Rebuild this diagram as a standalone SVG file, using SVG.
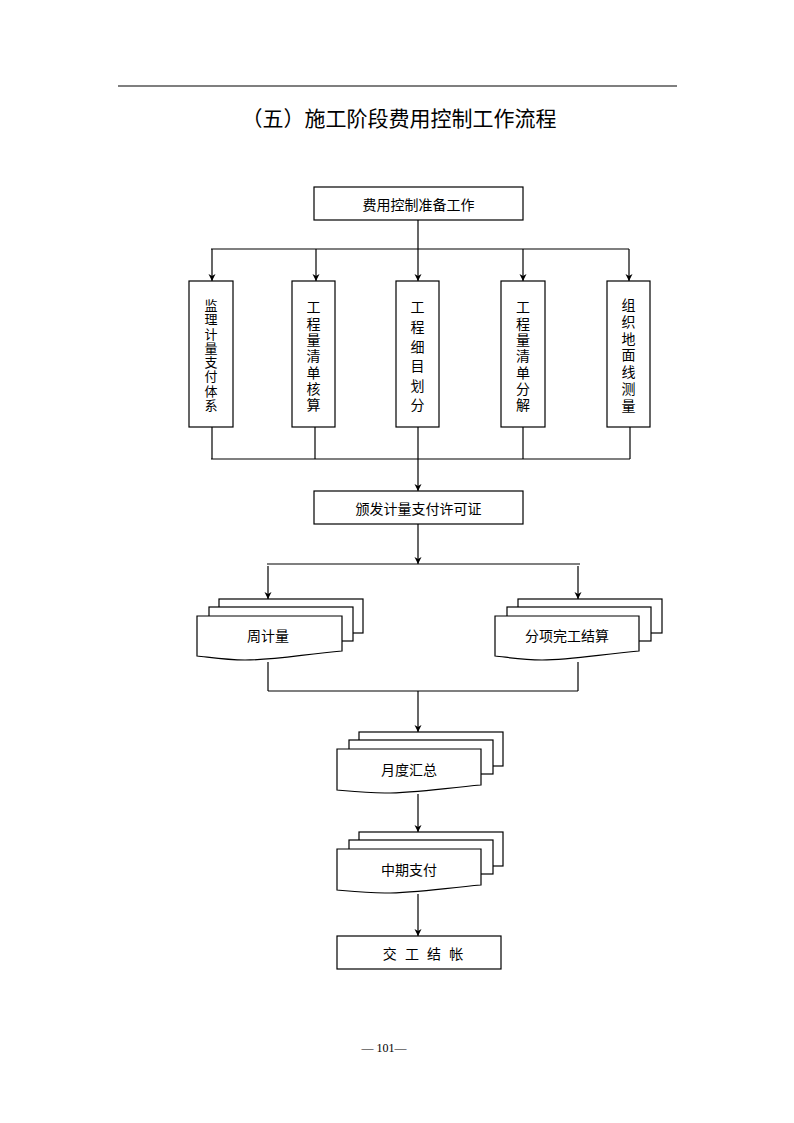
<svg xmlns="http://www.w3.org/2000/svg" width="794" height="1123" viewBox="0 0 794 1123">
<defs>
<style>
.bx{fill:#fff;stroke:#000;stroke-width:1.2}
.ln{fill:none;stroke:#000;stroke-width:1.2}
.ar{fill:none;stroke:#000;stroke-width:1.2;marker-end:url(#ah)}
.t{font-family:"Noto Sans CJK SC","Noto Sans",sans-serif;font-size:14px;fill:#000;text-anchor:middle;dominant-baseline:central}
.v{font-family:"Noto Sans CJK SC","Noto Sans",sans-serif;font-size:14px;fill:#000;writing-mode:vertical-rl;text-orientation:upright;text-anchor:start}
</style>
<marker id="ah" markerUnits="userSpaceOnUse" markerWidth="7" markerHeight="8" viewBox="0 0 10 10" refX="10" refY="5" orient="auto">
<path d="M0,0 L10,5 L0,10 L3,5 z" fill="#000"/>
</marker>
</defs>
<rect width="794" height="1123" fill="#fff"/>
<line x1="118" y1="86" x2="677" y2="86" stroke="#000" stroke-width="1.2"/>
<text x="399" y="117" font-family="Noto Sans CJK SC,sans-serif" font-size="21" text-anchor="middle" dominant-baseline="central" fill="#000">（五）施工阶段费用控制工作流程</text>

<g id="connectors">
<line class="ln" x1="418" y1="220" x2="418" y2="249"/>
<line class="ln" x1="211" y1="249" x2="629" y2="249"/>
<line class="ar" x1="212" y1="249" x2="212" y2="281"/>
<line class="ar" x1="316" y1="249" x2="316" y2="281"/>
<line class="ar" x1="418" y1="249" x2="418" y2="281"/>
<line class="ar" x1="523" y1="249" x2="523" y2="281"/>
<line class="ar" x1="629" y1="249" x2="629" y2="281" stroke-width="2"/>
<line class="ln" x1="212" y1="427" x2="212" y2="459"/>
<line class="ln" x1="315" y1="427" x2="315" y2="459"/>
<line class="ln" x1="418" y1="427" x2="418" y2="459"/>
<line class="ln" x1="523" y1="427" x2="523" y2="459"/>
<line class="ln" x1="630" y1="427" x2="630" y2="459"/>
<line class="ln" x1="211" y1="459" x2="630" y2="459"/>
<line class="ar" x1="418" y1="459" x2="418" y2="491"/>
<line class="ar" x1="418" y1="524" x2="418" y2="564"/>
<line class="ln" x1="267" y1="564" x2="580" y2="564"/>
<line class="ar" x1="268" y1="566" x2="268" y2="599"/>
<line class="ar" x1="578" y1="566" x2="578" y2="599"/>
<line class="ln" x1="268" y1="662" x2="268" y2="691"/>
<line class="ln" x1="578" y1="662" x2="578" y2="691"/>
<line class="ln" x1="268" y1="691" x2="578" y2="691"/>
<line class="ar" x1="418" y1="691" x2="418" y2="732"/>
<line class="ar" x1="418" y1="794" x2="418" y2="832"/>
<line class="ar" x1="418" y1="894" x2="418" y2="936"/>
</g>

<g id="n-prep">
<rect class="bx" x="314" y="187" width="209" height="33"/>
<text class="t" x="418.5" y="204">费用控制准备工作</text>
</g>

<g id="n-v1">
<rect class="bx" x="189" y="281" width="44" height="146"/>
<text class="v" x="211" y="298.5" style="font-size:13px;letter-spacing:1.3px">监理计量支付体系</text>
</g>
<g id="n-v2">
<rect class="bx" x="292" y="281" width="43" height="146"/>
<text class="v" x="313.5" y="300" style="letter-spacing:2.3px">工程量清单核算</text>
</g>
<g id="n-v3">
<rect class="bx" x="396" y="281" width="43" height="146"/>
<text class="v" x="417.5" y="300" style="letter-spacing:5.6px">工程细目划分</text>
</g>
<g id="n-v4">
<rect class="bx" x="501" y="281" width="44" height="146"/>
<text class="v" x="523" y="300" style="letter-spacing:2.3px">工程量清单分解</text>
</g>
<g id="n-v5">
<rect class="bx" x="607" y="281" width="43" height="146"/>
<text class="v" x="628.5" y="298" style="letter-spacing:2.7px">组织地面线测量</text>
</g>

<g id="n-permit">
<rect class="bx" x="314" y="491" width="209" height="33"/>
<text class="t" x="418.5" y="508">颁发计量支付许可证</text>
</g>

<g id="n-weekly">
<rect class="bx" x="219" y="599" width="144" height="34"/>
<rect class="bx" x="209" y="607" width="144" height="34"/>
<path class="bx" d="M197,616 H342 V651 C305,654 275,660 245,660 C225,660 208,657 197,656 Z"/>
<text class="t" x="268" y="635">周计量</text>
</g>

<g id="n-item">
<rect class="bx" x="518" y="599" width="144" height="34"/>
<rect class="bx" x="507" y="607" width="144" height="34"/>
<path class="bx" d="M495,616 H639 V651 C602,654 572,660 542,660 C522,660 506,657 495,656 Z"/>
<text class="t" x="567" y="635">分项完工结算</text>
</g>

<g id="n-monthly">
<rect class="bx" x="359" y="732" width="144" height="34"/>
<rect class="bx" x="349" y="740" width="144" height="34"/>
<path class="bx" d="M337,749 H481 V785 C445,788 415,793 385,793 C365,793 348,791 337,790 Z"/>
<text class="t" x="409" y="769">月度汇总</text>
</g>

<g id="n-interim">
<rect class="bx" x="359" y="832" width="144" height="34"/>
<rect class="bx" x="349" y="840" width="144" height="34"/>
<path class="bx" d="M337,849 H481 V885 C445,888 415,893 385,893 C365,893 348,891 337,890 Z"/>
<text class="t" x="409" y="869">中期支付</text>
</g>

<g id="n-final">
<rect class="bx" x="337" y="936" width="164" height="33"/>
<text class="t" x="423" y="953" word-spacing="5" xml:space="preserve">交 工 结 帐</text>
</g>

<text x="384" y="1048" font-family="Liberation Serif,serif" font-size="12" text-anchor="middle" dominant-baseline="central" fill="#000">— 101—</text>
</svg>
